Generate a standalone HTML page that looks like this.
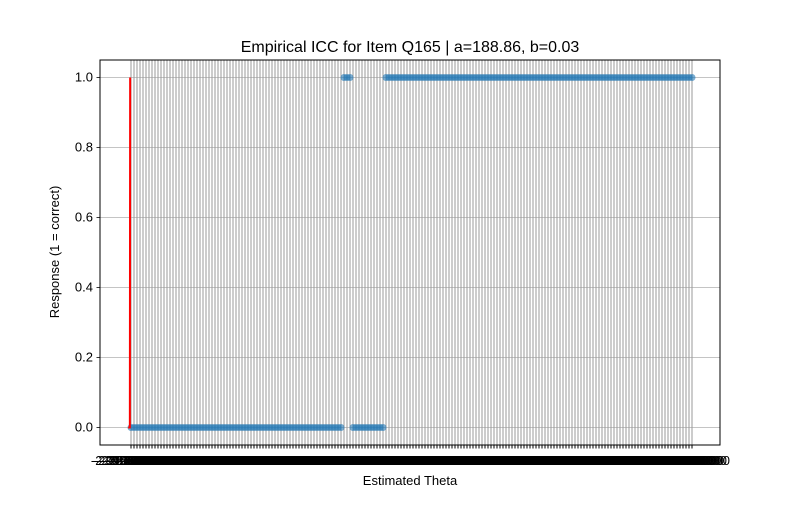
<!DOCTYPE html>
<html><head><meta charset="utf-8"><style>
body{margin:0;background:#fff}
svg text{font-family:"Liberation Sans","DejaVu Sans",sans-serif}
</style></head><body>
<svg id="c" width="800" height="500" xmlns="http://www.w3.org/2000/svg">
<rect width="800" height="500" fill="#fff"/>
<text x="410" y="52" font-size="16" text-anchor="middle">Empirical ICC for Item Q165 | a=188.86, b=0.03</text>
<g id="grid"></g>
<g id="marks"></g>
<rect x="100" y="60" width="620" height="385" fill="none" stroke="#000" stroke-width="1"/>
<g id="axes"></g>
<text x="410" y="485" font-size="13" text-anchor="middle">Estimated Theta</text>
<text transform="translate(59,252) rotate(-90)" font-size="13" text-anchor="middle">Response (1 = correct)</text>
</svg>
<script>
const thetas=[-2.91,-2.88,-2.85,-2.81,-2.78,-2.75,-2.72,-2.69,-2.66,-2.63,
-2.60,-2.57,-2.54,-2.51,-2.48,-2.44,-2.41,-2.38,-2.35,-2.32,
-2.29,-2.26,-2.23,-2.20,-2.17,-2.14,-2.11,-2.07,-2.04,-2.01,
-1.98,-1.95,-1.92,-1.89,-1.86,-1.83,-1.80,-1.77,-1.74,-1.70,
-1.67,-1.64,-1.61,-1.58,-1.55,-1.52,-1.49,-1.46,-1.43,-1.40,
-1.37,-1.33,-1.30,-1.27,-1.24,-1.21,-1.18,-1.15,-1.12,-1.09,
-1.06,-1.03,-1.00,-0.96,-0.93,-0.90,-0.87,-0.84,-0.81,-0.78,
-0.75,-0.72,-0.69,-0.66,-0.63,-0.59,-0.56,-0.53,-0.50,-0.47,
-0.44,-0.41,-0.38,-0.35,-0.32,-0.29,-0.25,-0.22,-0.19,-0.16,
-0.13,-0.10,-0.07,-0.04,-0.01,0.02,0.05,0.08,0.12,0.15,
0.18,0.21,0.24,0.27,0.30,0.33,0.36,0.39,0.42,0.45,
0.49,0.52,0.55,0.58,0.61,0.64,0.67,0.70,0.73,0.76,
0.79,0.82,0.86,0.89,0.92,0.95,0.98,1.01,1.04,1.07,
1.10,1.13,1.16,1.19,1.23,1.26,1.29,1.32,1.35,1.38,
1.41,1.44,1.47,1.50,1.53,1.56,1.60,1.63,1.66,1.69,
1.72,1.75,1.78,1.81,1.84,1.87,1.90,1.93,1.97,2.00,
2.03,2.06,2.09,2.12,2.15,2.18,2.21,2.24,2.27,2.30,
2.34,2.37,2.40,2.43,2.46,2.49,2.52,2.55,2.58,2.61,
2.64,2.67,2.71,2.74,2.77,2.80,2.83,2.87];
const responses=[0,0,0,0,0,0,0,0,0,0,0,0,0,0,0,0,0,0,0,0,
0,0,0,0,0,0,0,0,0,0,0,0,0,0,0,0,0,0,0,0,
0,0,0,0,0,0,0,0,0,0,0,0,0,0,0,0,0,0,0,0,
0,0,0,0,0,0,0,0,0,0,0,
1,1,1,
0,0,0,0,0,0,0,0,0,0,0,
1,1,1,1,1,1,1,1,1,1,1,1,1,1,1,1,1,1,1,1,
1,1,1,1,1,1,1,1,1,1,1,1,1,1,1,1,1,1,1,1,
1,1,1,1,1,1,1,1,1,1,1,1,1,1,1,1,1,1,1,1,
1,1,1,1,1,1,1,1,1,1,1,1,1,1,1,1,1,1,1,1,
1,1,1,1,1,1,1,1,1,1,1,1,1,1,1,1,1,1,1,1,
1,1,1];
const yTicks=[0.0,0.2,0.4,0.6,0.8,1.0];
const curveX=[-0.6,-0.4,-0.2,-0.05,0.0,0.05];
const curveParams=[188.86,0.03];
const NS="http://www.w3.org/2000/svg";
const xs=i=>131+i*(561/(thetas.length-1));
const ys=v=>427.5-v*350;
function mk(t,a,p){const e=document.createElementNS(NS,t);for(const k in a)e.setAttribute(k,a[k]);p.appendChild(e);return e;}
const grid=document.getElementById('grid'),marks=document.getElementById('marks'),axes=document.getElementById('axes');
yTicks.forEach(v=>{
  const l=mk('line',{x1:100,x2:720,y1:ys(v),y2:ys(v),stroke:'#b0b0b0','stroke-width':0.8},grid);
  
  
  const t=mk('line',{x1:96.5,x2:100,y1:ys(v),y2:ys(v),stroke:'#000','stroke-width':0.8},axes);
  
  
  const tx=mk('text',{x:93,y:ys(v)+4,'font-size':13,'text-anchor':'end'},axes);
  tx.textContent=v.toFixed(1);
  
  
});
thetas.forEach((th,i)=>{
  const l=mk('line',{x1:xs(i),x2:xs(i),y1:60,y2:445,stroke:'#999','stroke-width':1},grid);
  
  
  const t=mk('line',{x1:xs(i),x2:xs(i),y1:445,y2:448.5,stroke:'#000','stroke-width':1},axes);
  
  
  const tx=mk('text',{x:xs(i),y:465,'font-size':13,'text-anchor':'middle'},axes);
  tx.textContent=th.toFixed(9);
  
  
});
responses.forEach((r,i)=>{
  const c=mk('circle',{cx:xs(i),cy:ys(r),r:3.5,fill:'#1f77b4','fill-opacity':0.6},marks);
  
  
});
let d='';
curveX.forEach((p,k)=>{const y=1/(1+Math.exp(-curveParams[0]*(p-curveParams[1]+0.03)));d+=(k?'L':'M')+(xs(p)-1)+','+ys(y);});
const path=mk('path',{d:d,fill:'none',stroke:'#ff0000','stroke-width':2},marks);


</script>
</body></html>
